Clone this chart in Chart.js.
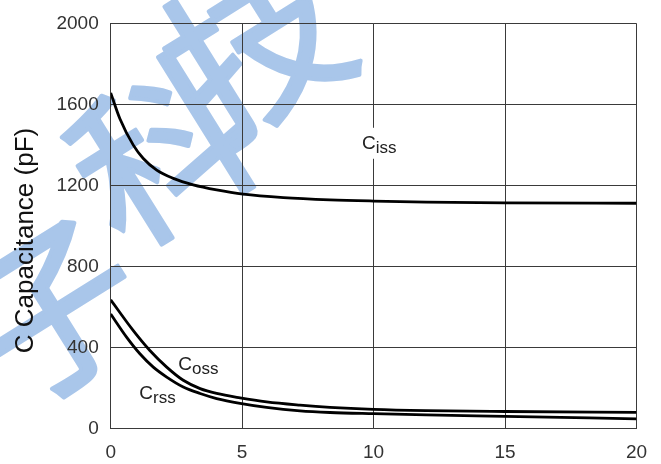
<!DOCTYPE html>
<html><head><meta charset="utf-8">
<script src="https://cdn.jsdelivr.net/npm/chart.js@4/dist/chart.umd.min.js"></script>
<style>html,body{margin:0;padding:0;background:#fff;}</style>
</head><body>
<canvas id="c" width="661" height="464"></canvas>
<script>
// ---- data ----
const xTicks = [0, 5, 10, 15, 20];
const yTicks = [0, 400, 800, 1200, 1600, 2000];

const cissX = [0, 0.35, 0.86, 1.24, 1.75, 2.38, 3.14, 4.03, 5.04, 6.57, 8.34, 10, 12, 15, 20];
const cissY = [1657, 1529, 1399, 1333, 1276, 1235, 1203, 1178, 1157, 1140, 1129, 1123, 1118, 1114, 1112];

const cossX = [0, 0.86, 1.49, 2.13, 2.76, 3.40, 4.03, 4.92, 5.93, 7.20, 8.34, 10, 12, 15, 20];
const cossY = [635, 483, 385, 303, 238, 197, 173, 151, 131, 115, 104, 94, 88, 84, 80];

const crssX = [0, 0.61, 1.11, 1.62, 2.13, 2.76, 3.40, 4.03, 4.92, 5.93, 7.20, 8.34, 10, 12, 15, 20];
const crssY = [565, 450, 369, 303, 254, 205, 173, 148, 124, 104, 87, 79, 73, 67, 60, 48];

const curveNames = ['C', 'C', 'C'];
const curveSubs = ['iss', 'oss', 'rss'];
const labelX = [9.56, 2.57, 1.09];
const labelY = [1381, 290, 148];

const yTitle = 'C Capacitance (pF)';
const watermarkChars = ['子', '科', '技'];

const toPts = (xs, ys) => xs.map((x, i) => ({x: x, y: ys[i]}));

const FONT = '"Liberation Sans", Arial, sans-serif';

const deco = {
  id: 'deco',
  beforeDraw(chart) {
    const ctx = chart.ctx;
    ctx.save();
    ctx.fillStyle = '#ffffff';
    ctx.fillRect(0, 0, chart.width, chart.height);
    // watermark
    const wmPos = [[52, 310], [162, 150], [255, 45]];
    ctx.fillStyle = '#a9c6ea';
    ctx.strokeStyle = '#a9c6ea';
    ctx.lineWidth = 4;
    ctx.lineJoin = 'round';
    ctx.font = '400 175px "Noto Sans CJK SC"';
    ctx.textAlign = 'center';
    ctx.textBaseline = 'middle';
    watermarkChars.forEach((ch, i) => {
      ctx.save();
      ctx.translate(wmPos[i][0], wmPos[i][1]);
      ctx.rotate(-32 * Math.PI / 180);
      ctx.fillText(ch, 0, 0);
      ctx.strokeText(ch, 0, 0);
      ctx.restore();
    });
    ctx.restore();
  },
  afterDatasetsDraw(chart) {
    const ctx = chart.ctx;
    const xs = chart.scales.x, ys = chart.scales.y;
    ctx.save();
    ctx.textBaseline = 'alphabetic';
    ctx.textAlign = 'left';
    curveNames.forEach((c, i) => {
      const px = xs.getPixelForValue(labelX[i]);
      const py = ys.getPixelForValue(labelY[i]);
      ctx.font = '19px ' + FONT;
      const w1 = ctx.measureText(c).width;
      ctx.font = '17px ' + FONT;
      const w2 = ctx.measureText(curveSubs[i]).width;
      if (i === 0) {
        ctx.fillStyle = '#ffffff';
        ctx.fillRect(px - 3, py - 21, w1 + w2 + 6, 31);
      }
      ctx.fillStyle = '#222';
      ctx.font = '19px ' + FONT;
      ctx.fillText(c, px, py);
      ctx.font = '17px ' + FONT;
      ctx.fillText(curveSubs[i], px + w1, py + 4);
    });
    // y title
    ctx.save();
    ctx.translate(33, 240.5);
    ctx.rotate(-Math.PI / 2);
    ctx.textAlign = 'center';
    ctx.textBaseline = 'alphabetic';
    ctx.font = '26px ' + FONT;
    ctx.fillStyle = '#111';
    ctx.fillText(yTitle, 0, 0);
    ctx.restore();
    ctx.restore();
  }
};

const lineStyle = {
  borderColor: '#000',
  borderWidth: 2.8,
  pointRadius: 0,
  fill: false,
  cubicInterpolationMode: 'monotone',
  showLine: true
};

new Chart(document.getElementById('c'), {
  type: 'scatter',
  data: {
    datasets: [
      Object.assign({label: 'Ciss', data: toPts(cissX, cissY)}, lineStyle),
      Object.assign({label: 'Coss', data: toPts(cossX, cossY)}, lineStyle),
      Object.assign({label: 'Crss', data: toPts(crssX, crssY)}, lineStyle)
    ]
  },
  options: {
    responsive: false,
    animation: false,
    events: [],
    layout: {padding: {top: 20.7, right: 24.5, left: 0, bottom: 0}},
    plugins: {legend: {display: false}, tooltip: {enabled: false}, title: {display: false}},
    scales: {
      x: {
        type: 'linear',
        min: xTicks[0], max: xTicks[xTicks.length - 1],
        afterBuildTicks(s) { s.ticks = xTicks.map(v => ({value: v})); },
        afterFit(s) { s.height = 35.5; },
        grid: {color: '#3a3a3a', lineWidth: 1, drawTicks: false},
        border: {color: '#3a3a3a', width: 1},
        ticks: {padding: 13, color: '#333', font: {family: FONT, size: 19}, maxRotation: 0,
                callback: v => String(v)}
      },
      y: {
        type: 'linear',
        min: yTicks[0], max: yTicks[yTicks.length - 1],
        afterBuildTicks(s) { s.ticks = yTicks.map(v => ({value: v})); },
        afterFit(s) { s.width = 110.7; },
        grid: {color: '#3a3a3a', lineWidth: 1, drawTicks: false},
        border: {color: '#3a3a3a', width: 1},
        ticks: {padding: 12, color: '#333', font: {family: FONT, size: 19},
                callback: v => String(v)}
      }
    }
  },
  plugins: [deco]
});
</script>
</body></html>
